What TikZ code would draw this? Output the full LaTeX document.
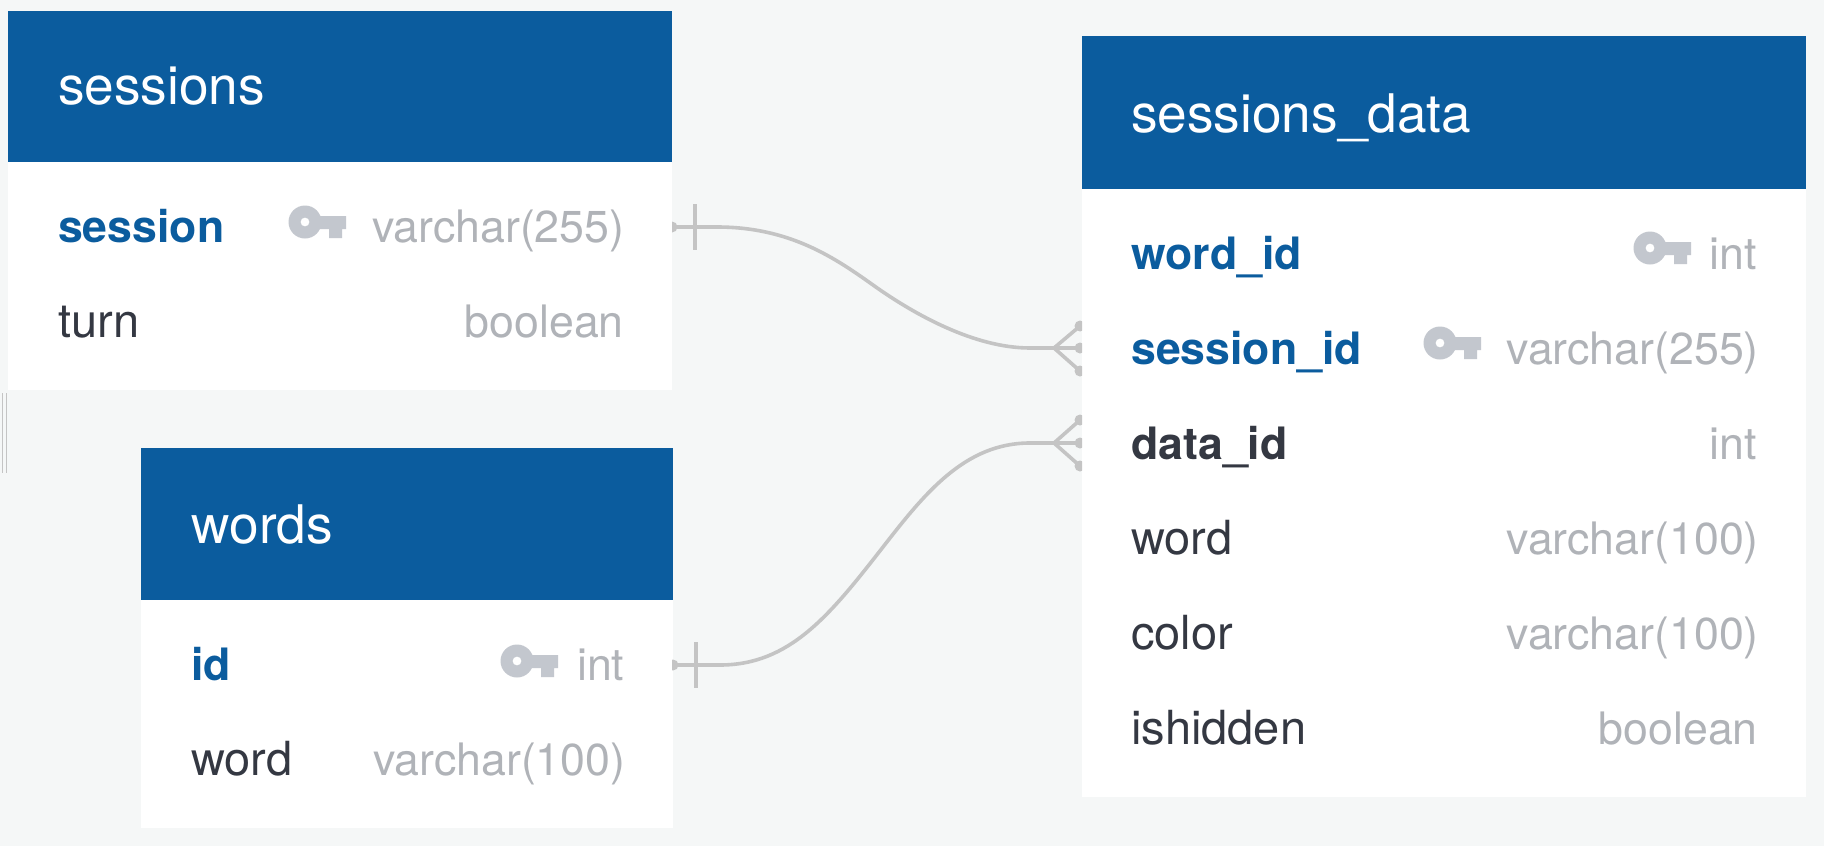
\documentclass[tikz,border=0pt]{standalone}
\usepackage{fontspec}
\setmainfont{TeX Gyre Heros}
\definecolor{bgc}{HTML}{F5F7F7}
\definecolor{hdr}{HTML}{0B5C9E}
\definecolor{dark}{HTML}{343842}
\definecolor{typec}{HTML}{B0B3B8}
\definecolor{keyc}{HTML}{C3C7CE}
\definecolor{linec}{HTML}{C4C4C4}
\tikzset{
  x=1pt,y=-1pt,
  hbox/.style={fill=hdr,inner sep=0pt,anchor=north west},
  bbox/.style={fill=white,inner sep=0pt,anchor=north west},
  ttl/.style={text=white,font=\fontsize{53.2}{53.2}\selectfont,anchor=base west,inner sep=0pt},
  fld/.style={text=dark,font=\fontsize{47}{47}\selectfont,anchor=base west,inner sep=0pt},
  pk/.style={text=hdr,font=\fontsize{44.6}{44.6}\selectfont\bfseries,anchor=base west,inner sep=0pt},
  fk/.style={text=dark,font=\fontsize{44.6}{44.6}\selectfont\bfseries,anchor=base west,inner sep=0pt},
  typ/.style={text=typec,font=\fontsize{44.7}{44.7}\selectfont,anchor=base east,inner sep=0pt},
  conn/.style={draw=linec,line width=3.6pt},
  dotc/.style={circle,fill=linec,inner sep=0pt,minimum size=11pt},
  keyicon/.pic={
    \fill[keyc,even odd rule] (16,16) circle[radius=16.5] (16,16) circle[radius=4.5];
    \fill[keyc] (28,10) -- (57,10) -- (57,23) -- (53,23) -- (53,32) -- (40,32) -- (40,23) -- (28,23) -- cycle;
  }
}
\begin{document}
\begin{tikzpicture}
\useasboundingbox[fill=bgc] (0,0) rectangle (1824,846);
% stray marks
\draw[linec,line width=1.2pt] (2.5,393) -- (2.5,473) (6.5,393) -- (6.5,473);
% sessions
\node[bbox,minimum width=664pt,minimum height=228pt] (sb) at (8,162) {};
\node[hbox,minimum width=664pt,minimum height=151pt] (sh) at (8,11) {};
\node[ttl] (st) at (58,104.5) {sessions};
\node[pk] (s1) at (58,242) {session};
\pic at (289,206) {keyicon};
\node[typ] (s1t) at (624.5,242) {varchar(255)};
\node[fld] (s2) at (58,337) {turn};
\node[typ] (s2t) at (624,337) {boolean};
% words
\node[bbox,minimum width=532pt,minimum height=228pt] (wb) at (141,600) {};
\node[hbox,minimum width=532pt,minimum height=152pt] (wh) at (141,448) {};
\node[ttl] (wt) at (191.5,543.5) {words};
\node[pk] (w1) at (191,680) {id};
\pic at (501,645) {keyicon};
\node[typ] (w1t) at (624.5,680) {int};
\node[fld] (w2) at (191,775) {word};
\node[typ] (w2t) at (625.5,775) {varchar(100)};
% sessions_data
\node[bbox,minimum width=724pt,minimum height=608pt] (db) at (1082,188.5) {};
\node[hbox,minimum width=724pt,minimum height=152.5pt] (dh) at (1082,36) {};
\node[ttl] (dt) at (1131,132) {sessions\_data};
\node[pk] (d1) at (1131,269) {word\_id};
\pic at (1634,232) {keyicon};
\node[typ] (d1t) at (1757,269) {int};
\node[pk] (d2) at (1131,364) {session\_id};
\pic at (1424,327) {keyicon};
\node[typ] (d2t) at (1759,364) {varchar(255)};
\node[fk] (d3) at (1131,459) {data\_id};
\node[typ] (d3t) at (1757,459) {int};
\node[fld] (d4) at (1131,554) {word};
\node[typ] (d4t) at (1759,554) {varchar(100)};
\node[fld] (d5) at (1131,649) {color};
\node[typ] (d5t) at (1759,649) {varchar(100)};
\node[fld] (d6) at (1131,744) {ishidden};
\node[typ] (d6t) at (1758,744) {boolean};
% connector anchors
\coordinate (a1) at (672,227);
\coordinate (a2) at (1054,348);
\coordinate (b1) at (673,665);
\coordinate (b2) at (1054,443);
\coordinate (p1) at (1080,326); \coordinate (p2) at (1080,348); \coordinate (p3) at (1080,371);
\coordinate (q1) at (1080,420); \coordinate (q2) at (1080,443); \coordinate (q3) at (1080,466);
% connectors
\begin{scope}
\clip (672,0) rectangle (1082,846);
\path (a1) node[dotc] (ad) {};
\path (b1) node[dotc] (bd) {};
\foreach \n in {p1,p2,p3,q1,q2,q3} \path (\n) node[dotc] (d\n) {};
\end{scope}
\draw[conn] (a1) -- (717,227) .. controls (790,227) and (835,258) .. (873,285) .. controls (915,315) and (975,348) .. (1030,348) -- (a2);
\draw[conn] (b1) -- (720,665) .. controls (790,665) and (830,615) .. (883,547) .. controls (925,493) and (965,443) .. (1030,443) -- (b2);
\draw[conn] (a2) -- (p1) (a2) -- (p2) (a2) -- (p3);
\draw[conn] (b2) -- (q1) (b2) -- (q2) (b2) -- (q3);
\coordinate (t1a) at (694.7,204); \coordinate (t1b) at (694.7,250);
\coordinate (t2a) at (696,642); \coordinate (t2b) at (696,688);
\draw[conn] (t1a) -- (t1b);
\draw[conn] (t2a) -- (t2b);
\end{tikzpicture}
\end{document}
